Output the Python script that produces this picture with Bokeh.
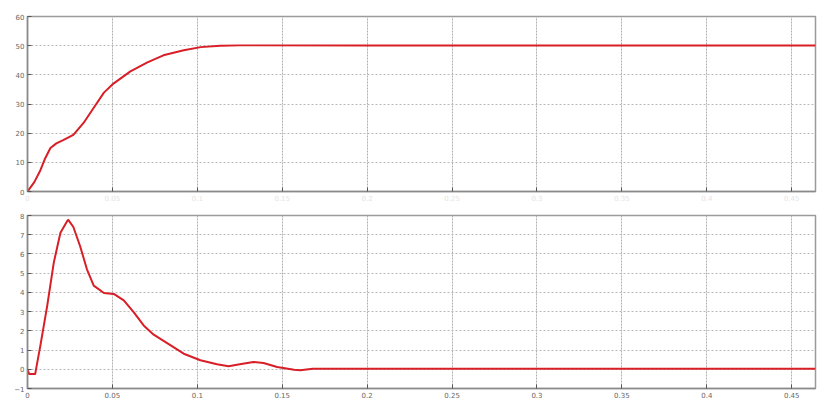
from bokeh.plotting import figure
from bokeh.layouts import column
from bokeh.models import Range1d, FixedTicker
from bokeh.embed import file_html
from bokeh.resources import INLINE

# ---- data ----
t_top = [0, 0.004, 0.0076, 0.0105, 0.0135, 0.017, 0.021, 0.027, 0.033, 0.039, 0.045,
         0.0506, 0.0606, 0.0706, 0.08, 0.092, 0.102, 0.1135, 0.125, 0.2, 0.3, 0.4, 0.464]
v_top = [0, 3.2, 7.3, 11.5, 14.9, 16.5, 17.6, 19.4, 23.5, 28.7, 33.9,
         37.0, 41.2, 44.3, 46.7, 48.4, 49.5, 50.0, 50.1, 50.1, 50.1, 50.1, 50.1]

t_bot = [0, 0.001, 0.0045, 0.0076, 0.0116, 0.0155, 0.0194, 0.0233, 0.024, 0.027, 0.031,
         0.035, 0.039, 0.045, 0.0508, 0.0567, 0.0625, 0.0684, 0.0743, 0.082, 0.092,
         0.1018, 0.1116, 0.1184, 0.125, 0.133, 0.139, 0.147, 0.157, 0.1606, 0.168,
         0.2, 0.3, 0.4, 0.464]
v_bot = [0, -0.25, -0.25, 1.24, 3.3, 5.56, 7.1, 7.7, 7.77, 7.4, 6.4,
         5.2, 4.35, 3.97, 3.92, 3.58, 2.97, 2.28, 1.8, 1.37, 0.81,
         0.47, 0.26, 0.16, 0.26, 0.38, 0.33, 0.12, -0.02, -0.05, 0.03,
         0.03, 0.03, 0.03, 0.03]

x_ticks = [0, 0.05, 0.1, 0.15, 0.2, 0.25, 0.3, 0.35, 0.4, 0.45]
x_labels = ["0", "0.05", "0.1", "0.15", "0.2", "0.25", "0.3", "0.35", "0.4", "0.45"]
top_ticks = [0, 10, 20, 30, 40, 50, 60]
bot_ticks = [-1, 0, 1, 2, 3, 4, 5, 6, 7, 8]

FONT = "DejaVu Sans"
RED = "#d81e26"


def style(p, yticks, xlabel_color):
    p.outline_line_color = "#9a9a9a"
    p.outline_line_width = 1.5
    p.background_fill_color = "white"
    p.border_fill_color = "white"
    p.xaxis.ticker = FixedTicker(ticks=x_ticks)
    p.xaxis.major_label_overrides = {t: l for t, l in zip(x_ticks, x_labels)}
    p.yaxis.ticker = FixedTicker(ticks=yticks)
    for ax in (p.xaxis, p.yaxis):
        ax.axis_line_color = "#8a8a8a"
        ax.axis_line_width = 1.5
        ax.major_tick_in = 4
        ax.major_tick_out = 0
        ax.major_tick_line_color = "#555555"
        ax.minor_tick_line_color = None
        ax.major_label_text_font = FONT
        ax.major_label_text_font_size = "7px"
        ax.major_label_standoff = 3
    p.yaxis.major_label_text_color = "#666666"
    p.xaxis.major_label_text_color = xlabel_color
    p.xgrid.ticker = FixedTicker(ticks=x_ticks)
    p.ygrid.ticker = FixedTicker(ticks=yticks)
    p.xgrid.grid_line_color = "#b0b0b0"
    p.xgrid.grid_line_dash = "2 1"
    p.ygrid.grid_line_color = "#b8b8b8"
    p.ygrid.grid_line_dash = "2 2"


p1 = figure(width=819, height=207, output_backend="svg", toolbar_location=None,
            x_range=Range1d(0, 0.464), y_range=Range1d(0, 60),
            min_border_left=27, min_border_right=4, min_border_top=16, min_border_bottom=16)
style(p1, top_ticks, "#e4e4e4")
p1.line(t_top, v_top, line_color=RED, line_width=2, line_join="round")

p2 = figure(width=819, height=194, output_backend="svg", toolbar_location=None,
            x_range=p1.x_range, y_range=Range1d(-1, 8),
            min_border_left=27, min_border_right=4, min_border_top=8, min_border_bottom=13)
style(p2, bot_ticks, "#666666")
p2.line(t_bot, v_bot, line_color=RED, line_width=2, line_join="round")

layout = column(p1, p2, spacing=0)
open("out.html", "w").write(file_html(layout, INLINE))
